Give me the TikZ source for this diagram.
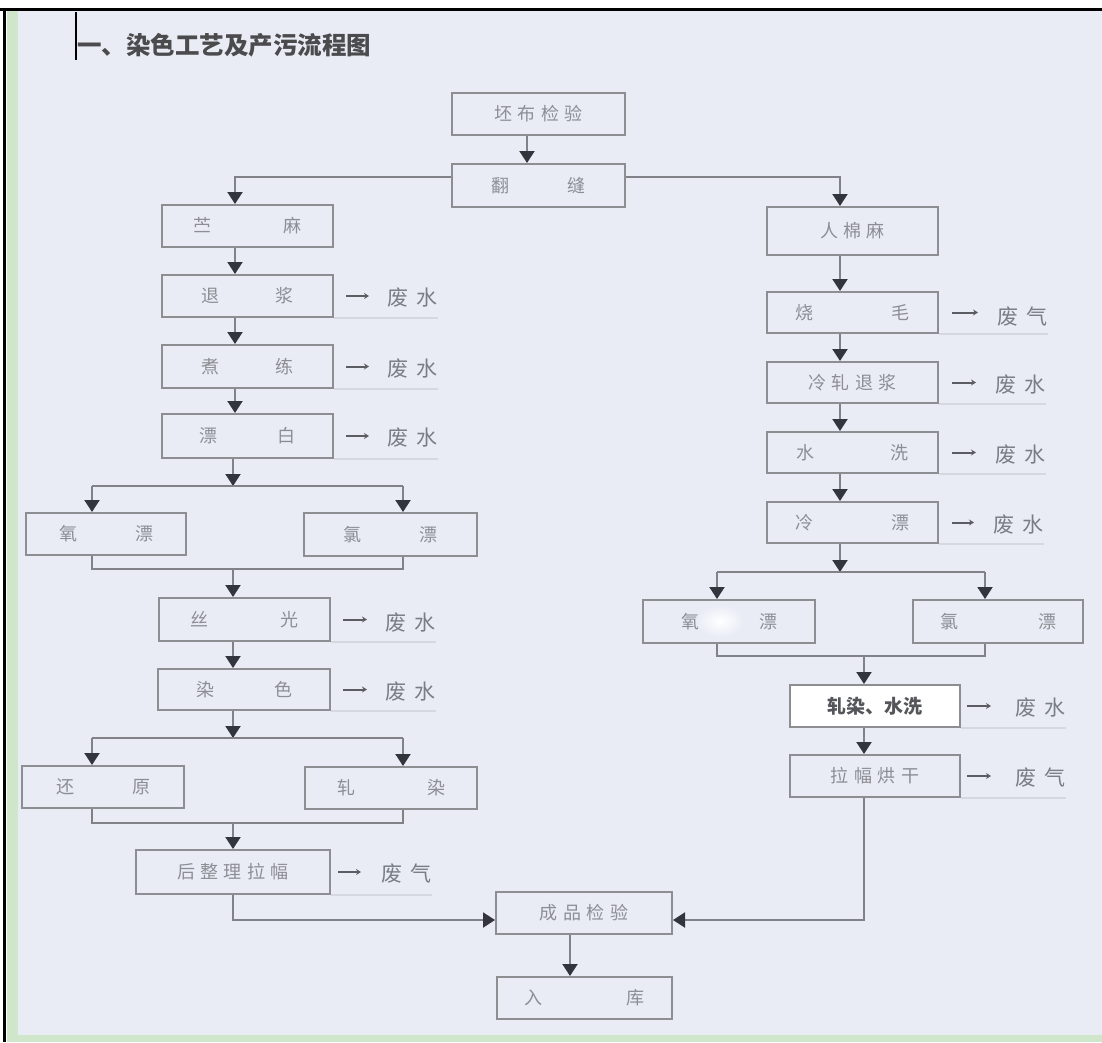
\documentclass[tikz,border=0pt]{standalone}
\usepackage{fontspec}
\usetikzlibrary{arrows.meta}
\newfontfamily\cjk{Noto Sans CJK SC}
\newfontfamily\cjkbox[LetterSpace=30]{Noto Sans CJK SC}
\newfontfamily\cjkwaste[LetterSpace=40]{Noto Sans CJK SC}
\definecolor{bg}{RGB}{233,236,245}
\definecolor{greenstrip}{RGB}{208,230,202}
\definecolor{boxgray}{RGB}{140,142,146}
\definecolor{linegray}{RGB}{128,130,136}
\definecolor{headdark}{RGB}{50,53,60}
\definecolor{txtgray}{RGB}{140,142,148}
\definecolor{wastegray}{RGB}{120,125,135}
\definecolor{titlegray}{RGB}{75,75,78}
\definecolor{zsgray}{RGB}{85,86,90}
\definecolor{faintline}{RGB}{212,216,224}
\newcommand{\tw}[3]{#1\hspace{#3}#2}
\tikzset{
  box/.style={draw=boxgray, line width=2pt, minimum width=171pt, minimum height=42pt,
    inner sep=0pt, text=txtgray, font=\cjkbox\fontsize{18}{18}\selectfont},
  arr/.style={draw=linegray, line width=2pt, line join=miter,
    -{Triangle[width=15pt,length=12pt,color=headdark]}},
  plain/.style={draw=linegray, line width=2pt, line join=miter},
  waste/.style={anchor=west, inner sep=0pt, text=wastegray, font=\cjkwaste\fontsize{21}{21}\selectfont},
  warr/.style={draw=headdark!80, line width=2pt, -{Stealth[length=5pt,width=6pt]}},
  faint/.style={draw=faintline, line width=1.2pt}
}
\begin{document}
\begin{tikzpicture}[x=1pt,y=-1pt]
% frame and background
\useasboundingbox (0,0) rectangle (1102,1042);
\fill[white] (0,0) rectangle (1102,1042);
\fill[bg] (18,10) rectangle (1102,1035);
\fill[greenstrip] (7,10) rectangle (18,1042);
\fill[greenstrip] (7,1035) rectangle (1102,1042);
\draw[black, line width=2.5pt] (0,9.5) -- (1102,9.5);
\draw[black, line width=3pt] (4,9) -- (4,1042);
% title
\draw[black, line width=2pt] (76,12) -- (76,60);
\node[anchor=west, inner sep=0pt, text=titlegray, font=\cjk\bfseries\fontsize{24.5}{24.5}\selectfont] (title) at (77,45) {一、染色工艺及产污流程图};

% column coordinates
\coordinate (cPB) at (527,0);
\coordinate (cL1) at (235,0);
\coordinate (cL2) at (233,0);
\coordinate (cLL) at (92,0);
\coordinate (cLR) at (403,0);
\coordinate (cR1) at (840,0);
\coordinate (cR2) at (864,0);
\coordinate (cRL) at (717,0);
\coordinate (cRR) at (985,0);
\coordinate (cCP) at (570,0);
\coordinate (yF) at (0,177);
\coordinate (yB1) at (0,486);
\coordinate (yM1) at (0,569);
\coordinate (yB2) at (0,738);
\coordinate (yM2) at (0,823);
\coordinate (yB3) at (0,572);
\coordinate (yM3) at (0,656);
\coordinate (yC) at (0,920);

% nodes - top
\node[box, minimum width=173pt] (pb) at (538.5,114) {坯布检验};
\node[box, minimum width=173pt, minimum height=43pt] (fs) at (538.5,185.5) {\tw{翻}{缝}{58pt}};
% left column
\node[box] (zm) at (247.5,226) {\tw{苎}{麻}{72pt}};
\node[box] (tj) at (247.5,296) {\tw{退}{浆}{56pt}};
\node[box, minimum height=43pt] (zl) at (247.5,366.5) {\tw{煮}{练}{56pt}};
\node[box, minimum height=44pt] (pbai) at (247.5,436) {\tw{漂}{白}{60pt}};
\node[box, minimum width=160pt] (yp1) at (106,534) {\tw{氧}{漂}{58pt}};
\node[box, minimum width=173pt, minimum height=43pt] (lp1) at (390.5,534.5) {\tw{氯}{漂}{58pt}};
\node[box, minimum height=43pt] (sg) at (244.5,619.5) {\tw{丝}{光}{72pt}};
\node[box, minimum width=172pt, minimum height=41pt] (rs) at (244,689.5) {\tw{染}{色}{60pt}};
\node[box, minimum width=162pt] (hy) at (103,787) {\tw{还}{原}{58pt}};
\node[box, minimum width=172pt] (zr) at (391,788) {\tw{轧}{染}{72pt}};
\node[box, minimum width=194pt, minimum height=44pt] (hz) at (233,872) {后整理拉幅};
% bottom
\node[box, minimum width=176pt] (cp) at (584,913) {成品检验};
\node[box, minimum width=175pt] (rk) at (584.5,998) {\tw{入}{库}{84pt}};
% right column
\node[box, minimum height=48pt] (rm) at (852.5,231) {人棉麻};
\node[box, minimum height=41pt] (sm) at (852.5,312.5) {\tw{烧}{毛}{78pt}};
\node[box, minimum height=41pt] (lt) at (852.5,382.5) {冷轧退浆};
\node[box, minimum height=41pt] (sx) at (852.5,452.5) {\tw{水}{洗}{76pt}};
\node[box, minimum height=41pt] (lpi) at (852.5,522.5) {\tw{冷}{漂}{78pt}};
\node[box, minimum width=172pt, minimum height=43pt] (yp2) at (729,621.5) {\tw{氧}{漂}{60pt}};
\node[box, minimum width=170pt, minimum height=43pt] (lp2) at (998,621.5) {\tw{氯}{漂}{80pt}};
\node[box, minimum width=170pt, fill=white, text=zsgray,
      font=\cjk\bfseries\fontsize{19}{19}\selectfont] (zs) at (875,706) {轧染、水洗};
\node[box, minimum width=170pt] (lf) at (875,776) {拉幅烘干};
% white smudge in the right oxygen-bleach box
\shade[inner color=white, outer color=bg] (720,621) ellipse (24pt and 16pt);

% connectors - top
\draw[arr] (pb.south -| cPB) -- (fs.north -| cPB);
\draw[arr] (fs.west |- yF) -| (zm.north -| cL1);
\draw[arr] (fs.east |- yF) -| (rm.north -| cR1);
% left column
\draw[arr] (zm.south -| cL1) -- (tj.north -| cL1);
\draw[arr] (tj.south -| cL1) -- (zl.north -| cL1);
\draw[arr] (zl.south -| cL1) -- (pbai.north -| cL1);
\draw[arr] (pbai.south -| cL2) -- (cL2 |- yB1);
\draw[plain] (cLL |- yB1) -- (cLR |- yB1);
\draw[arr] (cLL |- yB1) -- (yp1.north -| cLL);
\draw[arr] (cLR |- yB1) -- (lp1.north -| cLR);
\draw[plain] (yp1.south -| cLL) -- (cLL |- yM1) -- (cLR |- yM1) -- (lp1.south -| cLR);
\draw[arr] (cL2 |- yM1) -- (sg.north -| cL2);
\draw[arr] (sg.south -| cL2) -- (rs.north -| cL2);
\draw[arr] (rs.south -| cL2) -- (cL2 |- yB2);
\draw[plain] (cLL |- yB2) -- (cLR |- yB2);
\draw[arr] (cLL |- yB2) -- (hy.north -| cLL);
\draw[arr] (cLR |- yB2) -- (zr.north -| cLR);
\draw[plain] (hy.south -| cLL) -- (cLL |- yM2) -- (cLR |- yM2) -- (zr.south -| cLR);
\draw[arr] (cL2 |- yM2) -- (hz.north -| cL2);
\draw[arr] (hz.south -| cL2) |- (cp.west |- yC);
% right column
\draw[arr] (rm.south -| cR1) -- (sm.north -| cR1);
\draw[arr] (sm.south -| cR1) -- (lt.north -| cR1);
\draw[arr] (lt.south -| cR1) -- (sx.north -| cR1);
\draw[arr] (sx.south -| cR1) -- (lpi.north -| cR1);
\draw[arr] (lpi.south -| cR1) -- (cR1 |- yB3);
\draw[plain] (cRL |- yB3) -- (cRR |- yB3);
\draw[arr] (cRL |- yB3) -- (yp2.north -| cRL);
\draw[arr] (cRR |- yB3) -- (lp2.north -| cRR);
\draw[plain] (yp2.south -| cRL) -- (cRL |- yM3) -- (cRR |- yM3) -- (lp2.south -| cRR);
\draw[arr] (cR2 |- yM3) -- (zs.north -| cR2);
\draw[arr] (zs.south -| cR2) -- (lf.north -| cR2);
\draw[arr] (lf.south -| cR2) |- (cp.east |- yC);
% bottom
\draw[arr] (cp.south -| cCP) -- (rk.north -| cCP);

% waste outputs - left
\node[waste] (wtj) at (387,298) {废水};
\node[waste] (wzl) at (387,369) {废水};
\node[waste] (wpb) at (387,438) {废水};
\node[waste] (wsg) at (385,623) {废水};
\node[waste] (wrs) at (385,692) {废水};
\node[waste] (whz) at (381,874) {废气};
% waste outputs - right
\node[waste] (wsm) at (997,317) {废气};
\node[waste] (wlt) at (995,385) {废水};
\node[waste] (wsx) at (995,455) {废水};
\node[waste] (wlp) at (993,525) {废水};
\node[waste] (wzs) at (1015,708) {废水};
\node[waste] (wlf) at (1015,778) {废气};
\foreach \b/\w in {tj/wtj, zl/wzl, pbai/wpb, sg/wsg, rs/wrs}{
  \draw[warr, shorten <=12pt, shorten >=18pt] (\b.east) -- (\b.east -| \w.west);
  \draw[faint] (\b.south east) -- (\w.east |- \b.south);
}
\draw[warr, shorten <=7pt, shorten >=20pt] (hz.east) -- (hz.east -| whz.west);
\draw[faint] (hz.south east) -- (whz.east |- hz.south);
\foreach \b/\w in {sm/wsm, lt/wlt, sx/wsx, lpi/wlp}{
  \draw[warr, shorten <=13pt, shorten >=19pt] (\b.east) -- (\b.east -| \w.west);
  \draw[faint] (\b.south east) -- (\w.east |- \b.south);
}
\foreach \b/\w in {zs/wzs, lf/wlf}{
  \draw[warr, shorten <=6pt, shorten >=24pt] (\b.east) -- (\b.east -| \w.west);
  \draw[faint] (\b.south east) -- (\w.east |- \b.south);
}
\end{tikzpicture}
\end{document}
